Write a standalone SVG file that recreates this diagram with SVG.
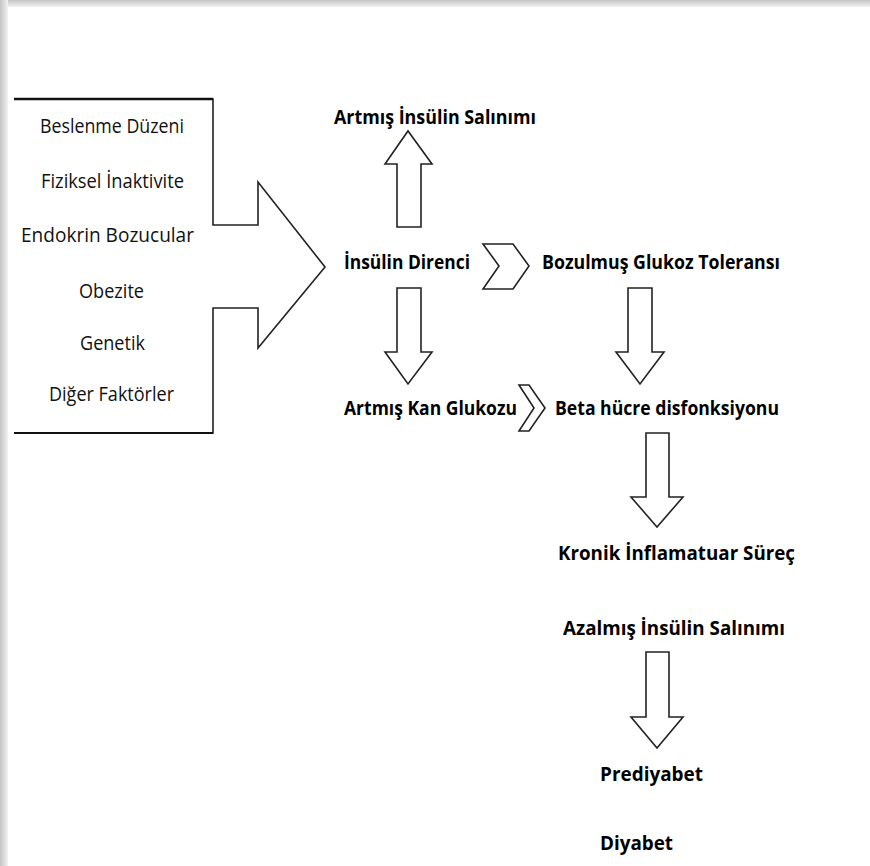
<svg xmlns="http://www.w3.org/2000/svg" width="870" height="866" viewBox="0 0 870 866">
<defs>
<linearGradient id="gTop" x1="0" y1="0" x2="0" y2="1"><stop offset="0" stop-color="#c4c4c4"/><stop offset="1" stop-color="#f2f2f2"/></linearGradient>
<linearGradient id="gLeft" x1="0" y1="0" x2="1" y2="0"><stop offset="0" stop-color="#c4c4c4"/><stop offset="1" stop-color="#f2f2f2"/></linearGradient>
</defs>
<style>
.s{fill:#fff;stroke:#222;stroke-width:1.6;stroke-linejoin:miter}
.r{font-family:"Open Sans","Liberation Sans",sans-serif;font-size:19.5px;fill:#111;text-anchor:start}
.b{font-family:"Open Sans","Liberation Sans",sans-serif;font-size:20px;font-weight:bold;fill:#000;text-anchor:start}
</style>
<rect x="0" y="0" width="870" height="866" fill="#fff"/>
<rect x="0" y="0" width="870" height="7" fill="url(#gTop)"/>
<rect x="0" y="0" width="8" height="866" fill="url(#gLeft)"/>

<g id="factors">
<path class="s" d="M14,99 H213 V225 H258 V182 L325,267 L258,348 V308 H213 V433 H14" />
<line x1="14" y1="99" x2="213" y2="99" stroke="#111" stroke-width="2.5"/>
<line x1="14" y1="433" x2="213" y2="433" stroke="#111" stroke-width="2.2"/>
<text class="r" x="40" y="133" textLength="144" lengthAdjust="spacingAndGlyphs">Beslenme Düzeni</text>
<text class="r" x="41" y="188" textLength="143" lengthAdjust="spacingAndGlyphs">Fiziksel İnaktivite</text>
<text class="r" x="21" y="242" textLength="173" lengthAdjust="spacingAndGlyphs">Endokrin Bozucular</text>
<text class="r" x="79" y="298" textLength="65" lengthAdjust="spacingAndGlyphs">Obezite</text>
<text class="r" x="80" y="350" textLength="65" lengthAdjust="spacingAndGlyphs">Genetik</text>
<text class="r" x="49" y="401" textLength="125" lengthAdjust="spacingAndGlyphs">Diğer Faktörler</text>
</g>

<g id="artmis-insulin"><text class="b" x="334" y="124" textLength="202" lengthAdjust="spacingAndGlyphs">Artmış İnsülin Salınımı</text></g>
<g id="insulin-direnci"><text class="b" x="344" y="269" textLength="126" lengthAdjust="spacingAndGlyphs">İnsülin Direnci</text></g>
<g id="bozulmus"><text class="b" x="542" y="269" textLength="238" lengthAdjust="spacingAndGlyphs">Bozulmuş Glukoz Toleransı</text></g>
<g id="artmis-kan"><text class="b" x="344" y="415" textLength="173" lengthAdjust="spacingAndGlyphs">Artmış Kan Glukozu</text></g>
<g id="beta"><text class="b" x="555" y="415" textLength="224" lengthAdjust="spacingAndGlyphs">Beta hücre disfonksiyonu</text></g>
<g id="kronik"><text class="b" x="558" y="560" textLength="237" lengthAdjust="spacingAndGlyphs">Kronik İnflamatuar Süreç</text></g>
<g id="azalmis"><text class="b" x="563" y="635" textLength="222" lengthAdjust="spacingAndGlyphs">Azalmış İnsülin Salınımı</text></g>
<g id="prediyabet"><text class="b" x="600" y="781" textLength="103" lengthAdjust="spacingAndGlyphs">Prediyabet</text></g>
<g id="diyabet"><text class="b" x="600" y="850" textLength="73" lengthAdjust="spacingAndGlyphs">Diyabet</text></g>

<g id="connectors">
<path class="s" d="M397,227 V164 H385 L408,131 L432,164 H421 V227 Z"/>
<path class="s" d="M483,244 H513 L529,266 L513,289 H483 L499,266 Z"/>
<path class="s" d="M397,288 V352 H385 L408,384 L432,352 H421 V288 Z"/>
<path class="s" d="M628,288 V352 H616 L640,384 L664,352 H652 V288 Z"/>
<path class="s" d="M519,385 H529 L545,408 L529,431 H519 L534,408 Z"/>
<path class="s" d="M646,433 V497 H631 L657,527 L683,497 H669 V433 Z"/>
<path class="s" d="M646,652 V717 H631 L657,748 L683,717 H669 V652 Z"/>
</g>
</svg>
